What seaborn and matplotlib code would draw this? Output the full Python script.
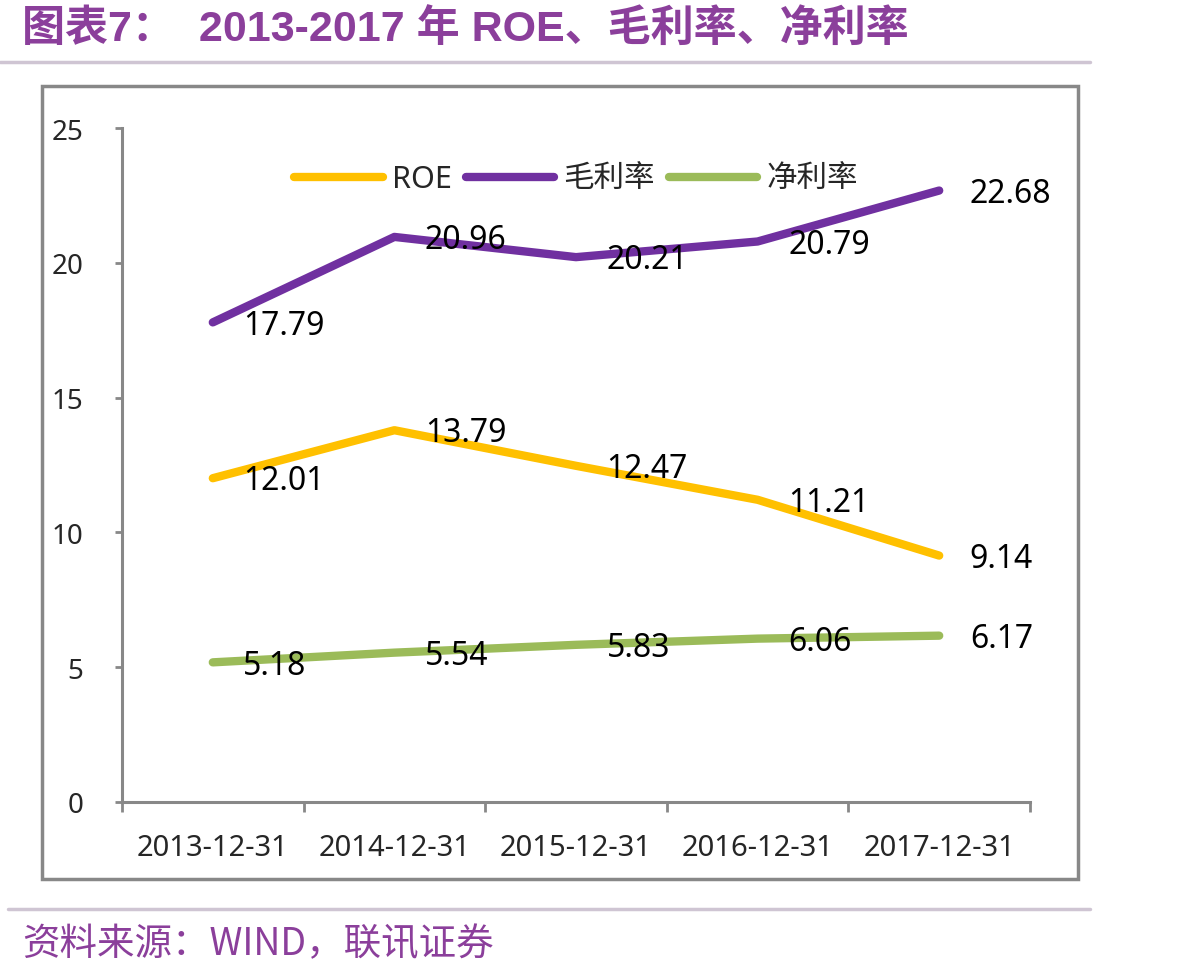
import numpy as np
import pandas as pd
import matplotlib
matplotlib.use("Agg")
import matplotlib.pyplot as plt
import seaborn as sns
from matplotlib.patches import Rectangle
from matplotlib.lines import Line2D

# ── Data ─────────────────────────────────────────────────────────────────────
DATES = ["2013-12-31", "2014-12-31", "2015-12-31", "2016-12-31", "2017-12-31"]
ROE = [12.01, 13.79, 12.47, 11.21, 9.14]
GROSS = [17.79, 20.96, 20.21, 20.79, 22.68]
NET = [5.18, 5.54, 5.83, 6.06, 6.17]
SERIES = ["ROE", "毛利率", "净利率"]
COLORS = ["#FFC000", "#7030A0", "#9BBB59"]
Y_TICKS = [0, 5, 10, 15, 20, 25]

TITLE = "图表7：  2013-2017 年 ROE、毛利率、净利率"
SOURCE = "资料来源：WIND，联讯证券"
PURPLE = "#8B3F9B"
SEP = "#CFC5D3"
GRAY = "#888888"

sns.set_style("white")
plt.rcParams["font.family"] = ["Noto Sans", "Noto Sans CJK SC", "DejaVu Sans"]

df = pd.DataFrame({
    "date": DATES * 3,
    "value": ROE + GROSS + NET,
    "series": [s for s in SERIES for _ in DATES],
})

fig = plt.figure(figsize=(11.85, 9.78), dpi=100)
ax = fig.add_axes([122 / 1185, 1 - 803 / 978, 908 / 1185, 674 / 978])

sns.lineplot(data=df, x="date", y="value", hue="series", hue_order=SERIES,
             palette=COLORS, linewidth=6, ax=ax, legend=False,
             sort=False, solid_capstyle="round")

# data labels to the right of each point
for vals in [ROE, GROSS, NET]:
    for i, v in enumerate(vals):
        ax.annotate(f"{v:.2f}", (i, v), xytext=(22, -2), textcoords="offset points",
                    ha="left", va="center", fontsize=23, color="black")

ax.set_xlim(-0.5, 4.5)
ax.set_ylim(0, 25)
ax.set_yticks(Y_TICKS)
ax.set_yticklabels([str(t) for t in Y_TICKS], fontsize=20)
ax.set_xticks(range(len(DATES)))
ax.set_xticklabels(DATES, fontsize=21)
ax.set_xticks(np.arange(-0.5, 5.0, 1.0), minor=True)
ax.tick_params(axis="x", which="major", bottom=True, length=0, pad=22)
ax.tick_params(axis="x", which="minor", bottom=True, length=7, width=2,
               color=GRAY, direction="out")
ax.tick_params(axis="y", left=True, length=5, width=2, color=GRAY,
               direction="out", pad=23)
ax.set_xlabel("")
ax.set_ylabel("")
for side in ["top", "right"]:
    ax.spines[side].set_visible(False)
for side in ["left", "bottom"]:
    ax.spines[side].set_color(GRAY)
    ax.spines[side].set_linewidth(2.2)

handles = [Line2D([0], [0], color=c, lw=6, solid_capstyle="round") for c in COLORS]
ax.legend(handles, SERIES, loc="center", bbox_to_anchor=(0.5, 0.924), ncol=3,
          frameon=False, fontsize=22, handlelength=2.9, handletextpad=0.3,
          columnspacing=0.45)

# frame, separators, title, source
fig.add_artist(Rectangle((42 / 1185, 1 - 880 / 978), 1036 / 1185, 793 / 978,
                         transform=fig.transFigure, fill=False,
                         edgecolor=GRAY, linewidth=2.5))
fig.add_artist(Line2D([0, 1090 / 1185], [1 - 63 / 978] * 2, color=SEP, lw=2.5))
fig.add_artist(Line2D([8 / 1185, 1090 / 1185], [1 - 910 / 978] * 2, color=SEP, lw=2.5))
fig.text(22 / 1185, 1 - 29 / 978, TITLE, fontsize=31, fontweight="bold",
         color=PURPLE, ha="left", va="center",
         family=["Liberation Sans", "Noto Sans CJK SC"])
fig.text(22 / 1185, 1 - 945 / 978, SOURCE, fontsize=27, style="italic",
         color=PURPLE, ha="left", va="center",
         family=["Noto Sans CJK SC", "DejaVu Sans"])

fig.savefig("out.png", dpi=100)
